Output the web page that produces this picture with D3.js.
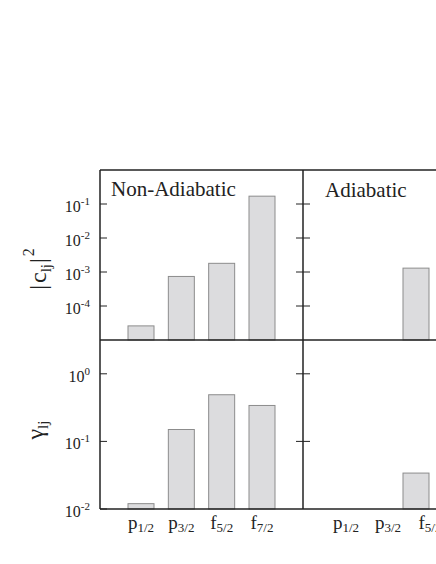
<!DOCTYPE html>
<html>
<head>
<meta charset="utf-8">
<script src="https://cdn.jsdelivr.net/npm/d3@7"></script>
<style>
  body { margin: 0; background: #fff; }
  text { font-family: "Liberation Serif", serif; fill: #222; }
</style>
</head>
<body>
<div id="chart"></div>
<script>
// data
var categories = ["p1/2", "p3/2", "f5/2", "f7/2"];
var letters = ["p", "p", "f", "f"];
var subs = ["1/2", "3/2", "5/2", "7/2"];

var c2NonAdiabatic = [2.6e-5, 7.4e-4, 1.8e-3, 0.17];
var c2Adiabatic = [null, null, 1.3e-3, null];
var gammaNonAdiabatic = [0.012, 0.15, 0.49, 0.34];
var gammaAdiabatic = [null, null, 0.034, null];

var c2Ticks = [-1, -2, -3, -4];
var gammaTicks = [0, -1, -2];

var W = 436, H = 564;
var xL = 100, xM = 303, xR = 506;
var yT = 170, yS = 340, yB = 509;
var barW = 26;

var svg = d3.select("#chart").append("svg")
  .attr("width", W).attr("height", H);

var yTop = d3.scaleLog().domain([1e-5, 1]).range([yS, yT]);
var yBot = d3.scaleLog().domain([1e-2, Math.pow(10, 0.5)]).range([yB, yS]);

var xLeft = d3.scalePoint().domain(categories).range([141, 262]);
var xRight = d3.scalePoint().domain(categories).range([332, 458]);
var labelShiftRight = 14;

// bars
function drawBars(vals, x, y) {
  var rows = categories.map(function(c, i) { return {c: c, v: vals[i]}; })
    .filter(function(d) { return d.v != null; });
  svg.append("g").selectAll("rect")
    .data(rows)
    .enter().append("rect")
    .attr("x", function(d) { return x(d.c) - barW / 2; })
    .attr("width", barW)
    .attr("y", function(d) { return y(d.v); })
    .attr("height", function(d) { return y.range()[0] - y(d.v); })
    .style("fill", "#dcdcde")
    .style("stroke", "#8c8c8c")
    .style("stroke-width", 1);
}
drawBars(c2NonAdiabatic, xLeft, yTop);
drawBars(c2Adiabatic, xRight, yTop);
drawBars(gammaNonAdiabatic, xLeft, yBot);
drawBars(gammaAdiabatic, xRight, yBot);

// frame
var frame = svg.append("g").style("stroke", "#222").style("stroke-width", 1.5);
[yT, yS, yB].forEach(function(yy) {
  frame.append("line").attr("x1", xL).attr("x2", xR).attr("y1", yy).attr("y2", yy);
});
[xL, xM].forEach(function(xx) {
  frame.append("line").attr("x1", xx).attr("x2", xx).attr("y1", yT).attr("y2", yB);
});

// ticks
function drawTicks(exps, y) {
  var g = svg.append("g");
  exps.forEach(function(e) {
    var v = Math.pow(10, e);
    g.append("line").attr("x1", xL).attr("x2", xL + 7)
      .attr("y1", y(v)).attr("y2", y(v))
      .style("stroke", "#222").style("stroke-width", 1);
    if (y(v) < y.range()[0] - 1) {
      g.append("line").attr("x1", xM - 7).attr("x2", xM + 7)
        .attr("y1", y(v)).attr("y2", y(v))
        .style("stroke", "#222").style("stroke-width", 1);
    }
    var t = g.append("text").attr("x", 90).attr("y", y(v) + 8)
      .attr("text-anchor", "end").style("font-size", "16px");
    t.append("tspan").text("10");
    t.append("tspan").attr("dy", -7).style("font-size", "11px").text(String(e));
  });
}
drawTicks(c2Ticks, yTop);
drawTicks(gammaTicks, yBot);

// category labels
function drawLabels(x, shift) {
  categories.forEach(function(c, i) {
    var t = svg.append("text")
      .attr("x", x(c) + shift).attr("y", 529)
      .attr("text-anchor", "middle").style("font-size", "19px");
    t.append("tspan").text(letters[i]);
    t.append("tspan").attr("dy", 3).style("font-size", "13px").text(subs[i]);
  });
}
drawLabels(xLeft, 0);
drawLabels(xRight, labelShiftRight);

// panel titles
svg.append("text").attr("x", 111).attr("y", 196).style("font-size", "21px").text("Non-Adiabatic");
svg.append("text").attr("x", 325).attr("y", 197).style("font-size", "21px").text("Adiabatic");

// y axis titles
var yl1 = svg.append("text")
  .attr("transform", "translate(46,269) rotate(-90)")
  .attr("text-anchor", "middle").style("font-size", "24px");
yl1.append("tspan").text("|");
yl1.append("tspan").attr("dx", 2).text("c");
yl1.append("tspan").attr("dy", 5).style("font-size", "15px").text("lj");
yl1.append("tspan").attr("dy", -5).attr("dx", 1).text("|");
yl1.append("tspan").attr("dy", -12).attr("dx", 2).style("font-size", "16px").text("2");

var yl2 = svg.append("text")
  .attr("transform", "translate(43,430) rotate(-90)")
  .attr("text-anchor", "middle").style("font-size", "24px");
yl2.append("tspan").text("γ");
yl2.append("tspan").attr("dy", 5).style("font-size", "15px").text("lj");
</script>
</body>
</html>
